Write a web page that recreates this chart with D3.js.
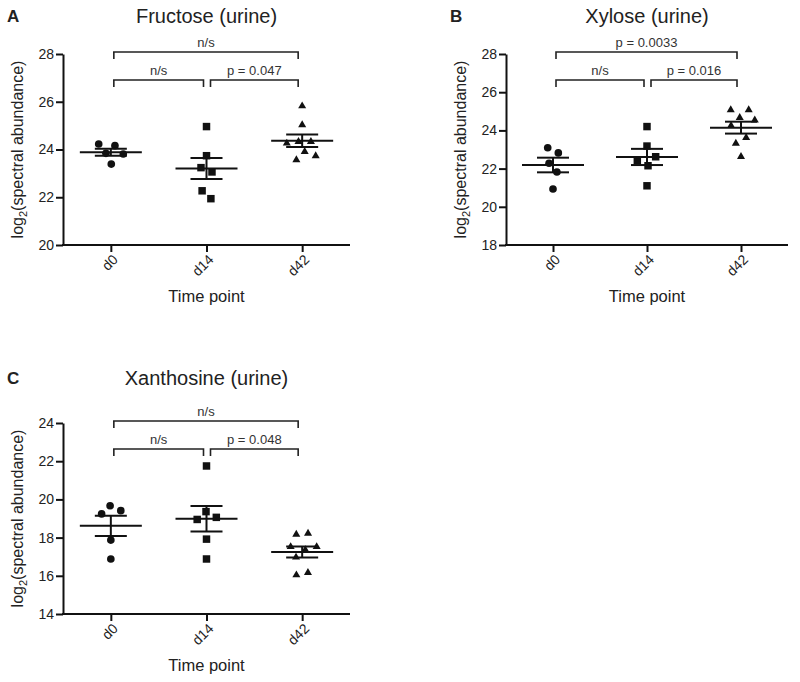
<!DOCTYPE html>
<html>
<head>
<meta charset="utf-8">
<script src="https://cdn.jsdelivr.net/npm/d3@7"></script>
<style>
  html, body { margin: 0; padding: 0; background: #fff; }
  svg { display: block; font-family: "Liberation Sans", Arial, Helvetica, sans-serif; }
</style>
</head>
<body>
<svg id="chart" width="800" height="682"></svg>
<script>
// ---------------- data ----------------
const categories = ["d0", "d14", "d42"];

const fructoseD0  = [24.23, 24.16, 23.84, 23.81, 23.39];
const fructoseD14 = [24.96, 23.74, 23.24, 23.06, 22.27, 21.94];
const fructoseD42 = [25.82, 25.03, 24.33, 24.33, 24.26, 23.91, 23.73, 23.56];

const xyloseD0  = [23.09, 22.82, 22.28, 21.82, 20.93];
const xyloseD14 = [24.20, 23.18, 22.62, 22.41, 22.15, 21.10];
const xyloseD42 = [25.07, 25.07, 24.67, 24.54, 24.25, 23.62, 23.32, 22.62];

const xanthosineD0  = [19.67, 19.41, 19.24, 17.87, 16.88];
const xanthosineD14 = [21.75, 19.36, 19.06, 18.95, 17.92, 16.88];
const xanthosineD42 = [18.22, 18.17, 17.52, 17.52, 17.35, 16.97, 16.16, 16.04];

const fructoseTicks   = [20, 22, 24, 26, 28];
const xyloseTicks     = [18, 20, 22, 24, 26, 28];
const xanthosineTicks = [14, 16, 18, 20, 22, 24];

// significance labels: [d0 vs d42, d0 vs d14, d14 vs d42]
const fructoseSig   = ["n/s", "n/s", "p = 0.047"];
const xyloseSig     = ["p = 0.0033", "n/s", "p = 0.016"];
const xanthosineSig = ["n/s", "n/s", "p = 0.048"];

const titles = ["Fructose (urine)", "Xylose (urine)", "Xanthosine (urine)"];
const panelLetters = ["A", "B", "C"];
const yAxisTitle = ["log", "2", "(spectral abundance)"];
const xAxisTitle = "Time point";

// ---------------- layout ----------------
const panels = [
  { letter: panelLetters[0], title: titles[0], groups: [fructoseD0, fructoseD14, fructoseD42],
    ticks: fructoseTicks, sig: fructoseSig,
    left: 63, right: 350, top: 54, bottom: 245, letterX: 7, headY: 23 },
  { letter: panelLetters[1], title: titles[1], groups: [xyloseD0, xyloseD14, xyloseD42],
    ticks: xyloseTicks, sig: xyloseSig,
    left: 506, right: 788, top: 54, bottom: 245, letterX: 450, headY: 23 },
  { letter: panelLetters[2], title: titles[2], groups: [xanthosineD0, xanthosineD14, xanthosineD42],
    ticks: xanthosineTicks, sig: xanthosineSig,
    left: 63, right: 350, top: 423, bottom: 614, letterX: 7, headY: 385 }
];

const symbolTypes = [d3.symbolCircle, d3.symbolSquare, d3.symbolTriangle];
const symbolSizes = [46, 56, 28];
const INK = "#111";
const TEXT = "#222";

const svg = d3.select("#chart");

panels.forEach(p => {
  const g = svg.append("g");
  const y = d3.scaleLinear()
    .domain(d3.extent(p.ticks))
    .range([p.bottom, p.top]);
  const x = d3.scalePoint()
    .domain(categories)
    .range([p.left, p.right])
    .padding(0.5);
  const cx = (p.left + p.right) / 2;

  // panel letter
  g.append("text")
    .attr("x", p.letterX).attr("y", p.headY - 1)
    .attr("font-size", 17).attr("font-weight", "bold")
    .attr("fill", TEXT).text(p.letter);

  // title
  g.append("text")
    .attr("x", cx).attr("y", p.headY)
    .attr("text-anchor", "middle")
    .attr("font-size", 20).attr("fill", TEXT).text(p.title);

  // y axis
  const yAxis = g.append("g")
    .attr("transform", `translate(${p.left},0)`)
    .call(d3.axisLeft(y).tickValues(p.ticks).tickSize(7).tickSizeOuter(0).tickPadding(2));
  yAxis.select(".domain").attr("stroke", INK).attr("stroke-width", 2);
  yAxis.selectAll(".tick line").attr("stroke", INK).attr("stroke-width", 2);
  yAxis.selectAll(".tick text").attr("font-size", 14).attr("fill", TEXT)
    .attr("font-family", "Liberation Sans, Arial, sans-serif");

  // x axis
  const xAxis = g.append("g")
    .attr("transform", `translate(0,${p.bottom})`)
    .call(d3.axisBottom(x).tickSize(7).tickSizeOuter(0).tickFormat(() => ""));
  xAxis.select(".domain").attr("stroke", INK).attr("stroke-width", 2)
    .attr("d", `M${p.left - 1},0H${p.right}`);
  xAxis.selectAll(".tick line").attr("stroke", INK).attr("stroke-width", 2);
  xAxis.selectAll(".tick").append("text")
    .attr("transform", "translate(4,12) rotate(-45)")
    .attr("text-anchor", "end")
    .attr("dy", "0.35em")
    .attr("font-size", 14).attr("fill", TEXT)
    .attr("font-family", "Liberation Sans, Arial, sans-serif")
    .text(d => d);

  // axis titles
  g.append("text")
    .attr("x", cx).attr("y", p.bottom + 57)
    .attr("text-anchor", "middle").attr("font-size", 16.5).attr("fill", TEXT)
    .text(xAxisTitle);
  const yt = g.append("text")
    .attr("transform", `translate(${p.left - 40},${(p.top + p.bottom) / 2}) rotate(-90)`)
    .attr("text-anchor", "middle").attr("font-size", 16).attr("fill", TEXT);
  yt.append("tspan").text(yAxisTitle[0]);
  yt.append("tspan").attr("font-size", 11).attr("dy", 4).text(yAxisTitle[1]);
  yt.append("tspan").attr("dy", -4).text(yAxisTitle[2]);

  // points with beeswarm spread
  p.groups.forEach((vals, gi) => {
    const px = x(categories[gi]);
    const nodes = vals.map(v => ({ v, x: px, y: y(v), fy: y(v) }));
    const sim = d3.forceSimulation(nodes)
      .force("x", d3.forceX(px).strength(0.08))
      .force("collide", d3.forceCollide(5.9).iterations(4))
      .stop();
    for (let i = 0; i < 300; i++) sim.tick();

    g.append("g").selectAll("path")
      .data(nodes).join("path")
      .attr("transform", d => `translate(${d.x},${d.fy})`)
      .attr("d", d3.symbol().type(symbolTypes[gi]).size(symbolSizes[gi]))
      .attr("fill", INK);

    // mean ± SEM
    const m = d3.mean(vals);
    const sem = d3.deviation(vals) / Math.sqrt(vals.length);
    const eb = g.append("g").attr("stroke", INK).attr("stroke-width", 2).attr("fill", "none");
    eb.append("line").attr("x1", px - 31).attr("x2", px + 31).attr("y1", y(m)).attr("y2", y(m));
    eb.append("line").attr("x1", px - 16).attr("x2", px + 16).attr("y1", y(m + sem)).attr("y2", y(m + sem));
    eb.append("line").attr("x1", px - 16).attr("x2", px + 16).attr("y1", y(m - sem)).attr("y2", y(m - sem));
    eb.append("line").attr("x1", px).attr("x2", px).attr("y1", y(m + sem)).attr("y2", y(m - sem));
  });

  // significance brackets
  const brackets = [
    { a: x(categories[0]) + 3, b: x(categories[2]) - 4, yy: p.top - 2, label: p.sig[0] },
    { a: x(categories[0]) + 3, b: x(categories[1]) - 3, yy: p.top + 26, label: p.sig[1] },
    { a: x(categories[1]) + 4, b: x(categories[2]) - 4, yy: p.top + 26, label: p.sig[2] }
  ];
  brackets.forEach(br => {
    g.append("path")
      .attr("d", `M${br.a},${br.yy + 7}V${br.yy}H${br.b}V${br.yy + 7}`)
      .attr("fill", "none").attr("stroke", "#222").attr("stroke-width", 1.6);
    g.append("text")
      .attr("x", (br.a + br.b) / 2).attr("y", br.yy - 5)
      .attr("text-anchor", "middle").attr("font-size", 13).attr("fill", "#333")
      .text(br.label);
  });
});
</script>
</body>
</html>
